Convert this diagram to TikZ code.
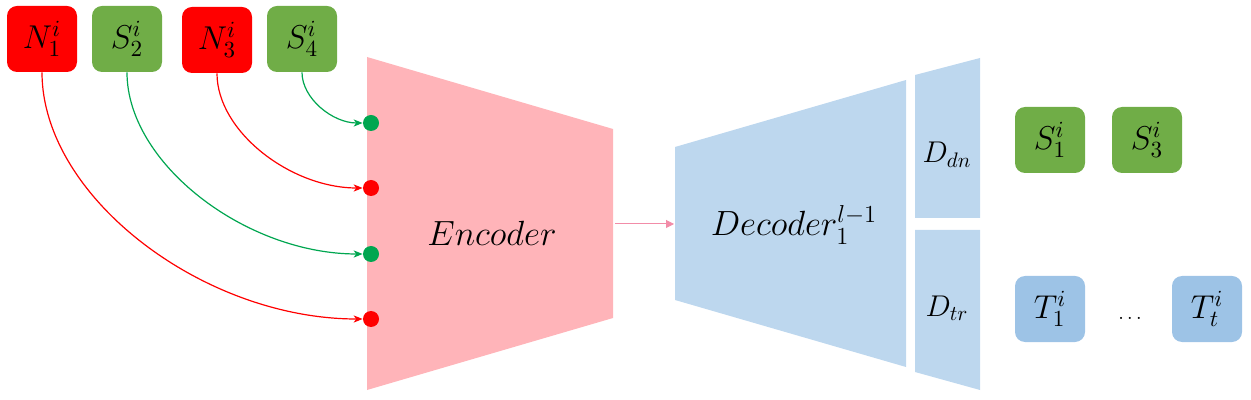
\RequirePackage{fix-cm}
\documentclass[tikz,border=0pt]{standalone}
\usetikzlibrary{arrows.meta,calc}
\definecolor{bred}{HTML}{FF0000}
\definecolor{bgreen}{HTML}{70AD47}
\definecolor{dgreen}{HTML}{00A650}
\definecolor{encpink}{HTML}{FFB4B9}
\definecolor{decblue}{HTML}{BDD7EE}
\definecolor{tblue}{HTML}{9DC3E6}
\definecolor{arrpink}{HTML}{F28CA8}
\begin{document}
\begin{tikzpicture}[x=0.5pt,y=-0.5pt,
  tok/.style={rounded corners=5pt, minimum width=35pt, minimum height=33pt, inner sep=0pt, font=\fontsize{16.5}{18}\selectfont},
  redtok/.style={tok, fill=bred},
  greentok/.style={tok, fill=bgreen},
  bluetok/.style={tok, fill=tblue},
  dot/.style={circle, minimum size=8pt, inner sep=0pt},
  conn/.style={line width=0.6pt, -{Stealth[length=4.5pt,width=3.6pt,inset=1.3pt]}},
  big/.style={font=\fontsize{17.5}{20}\selectfont, inner sep=0pt},
  small/.style={font=\fontsize{15}{17}\selectfont, inner sep=0pt}]
\useasboundingbox (0,0) rectangle (1251,400);

% encoder and decoder blocks
\fill[encpink] (367,57) -- (613,129) -- (613,318) -- (367,390) -- cycle;
\fill[decblue] (675,147) -- (906,80) -- (906,367) -- (675,300) -- cycle;
\fill[decblue] (915,75) -- (980,58) -- (980,218) -- (915,218) -- cycle;
\fill[decblue] (915,230) -- (980,230) -- (980,390) -- (915,372) -- cycle;

\node[big] (enc) at (492,233) {$Encoder$};
\node[big] (dec) at (794,225) {$Decoder_1^{l-1}$};
\node[small] (ddn) at (947,155) {$D_{dn}$};
\node[small] (dtr) at (947,308) {$D_{tr}$};

\coordinate (encR) at (615,224);
\coordinate (decL) at (674,224);
\draw[arrpink, line width=0.5pt, -{Triangle[length=4pt,width=4pt]}] (encR) -- (decL);

% input tokens
\node[redtok]   (n1) at (42,39)  {$N_1^i$};
\node[greentok] (s2) at (127,39) {$S_2^i$};
\node[redtok]   (n3) at (217,40) {$N_3^i$};
\node[greentok] (s4) at (302,39) {$S_4^i$};

% dots on encoder
\node[dot, fill=dgreen] (d1) at (371,123) {};
\node[dot, fill=bred]   (d2) at (371,188) {};
\node[dot, fill=dgreen] (d3) at (371,254) {};
\node[dot, fill=bred]   (d4) at (371,319) {};

\draw[conn, bred]   (n1.south) .. controls ($(n1.south)+(0,124)$) and ($(d4.west)+(-160,0)$) .. (d4.west);
\draw[conn, dgreen] (s2.south) .. controls ($(s2.south)+(0,91)$) and ($(d3.west)+(-117,0)$) .. (d3.west);
\draw[conn, bred]   (n3.south) .. controls ($(n3.south)+(0,58)$) and ($(d2.west)+(-72,0)$) .. (d2.west);
\draw[conn, dgreen] (s4.south) .. controls ($(s4.south)+(0,26)$) and ($(d1.west)+(-30,0)$) .. (d1.west);

% output tokens
\node[greentok] (s1) at (1050,140) {$S_1^i$};
\node[greentok] (s3) at (1147,140) {$S_3^i$};
\node[bluetok]  (t1) at (1050,309) {$T_1^i$};
\node[bluetok]  (tt) at (1207,309) {$T_t^i$};
\node[font=\fontsize{10}{12}\selectfont, inner sep=0pt] (el) at (1130,318) {$\dots$};
\end{tikzpicture}
\end{document}
